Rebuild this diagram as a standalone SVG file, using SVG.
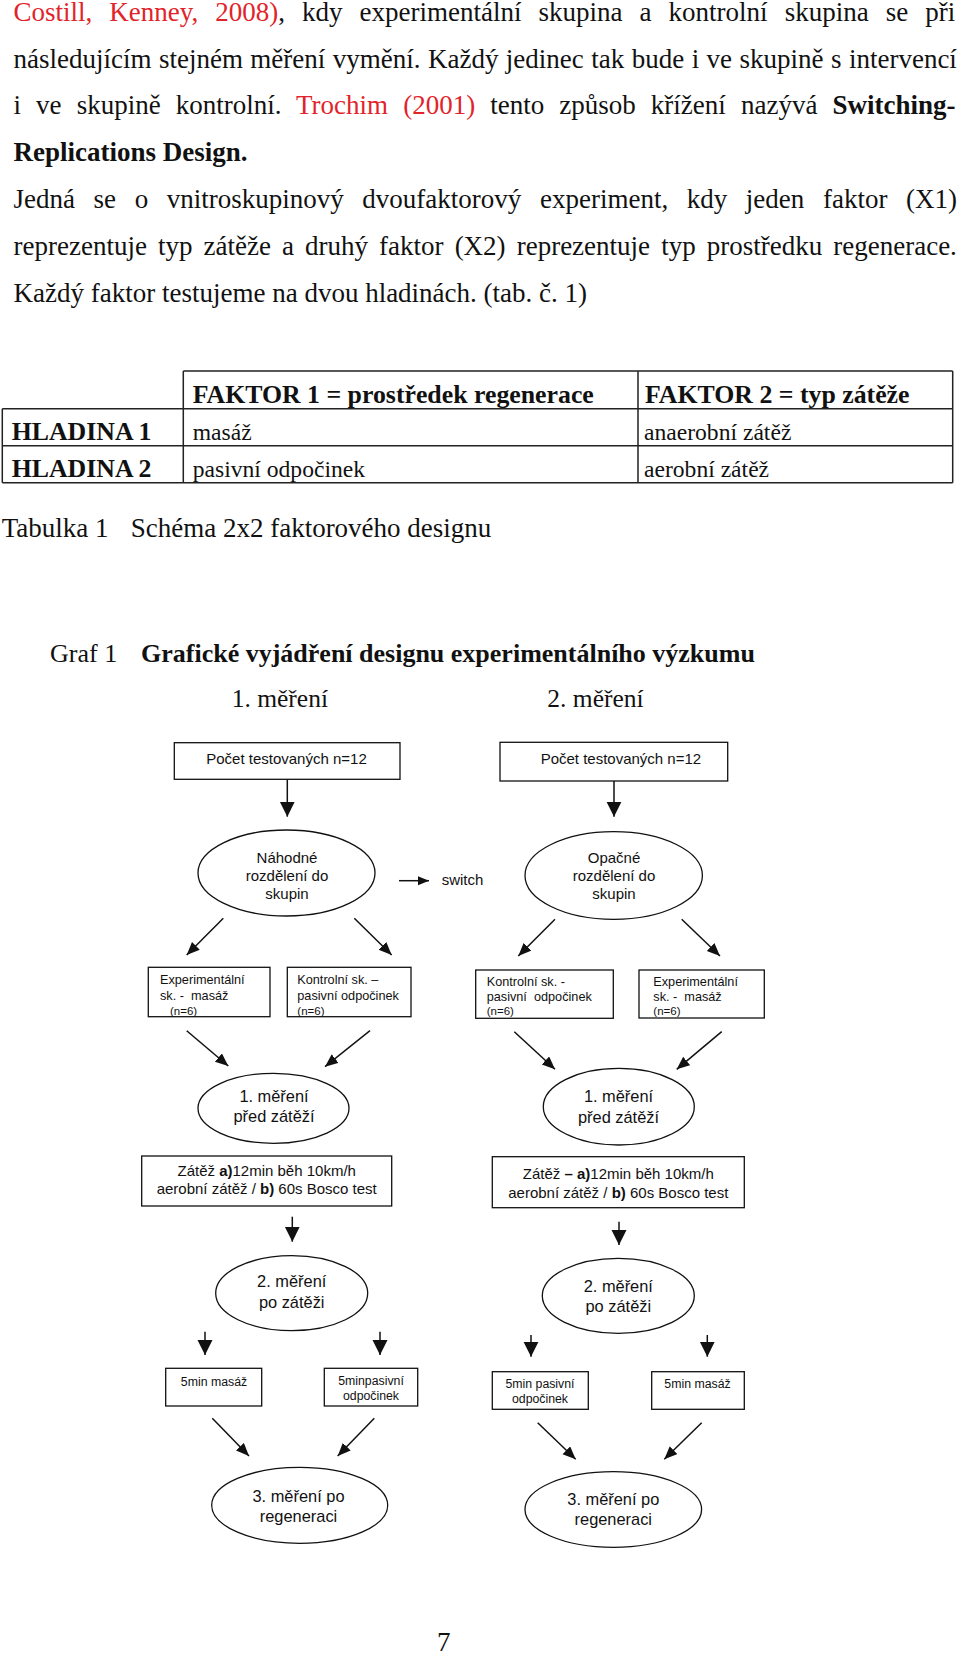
<svg xmlns="http://www.w3.org/2000/svg" width="960" height="1656" viewBox="0 0 960 1656">
<style>
.body{font-family:"Liberation Serif","Times New Roman",serif;font-size:27px;fill:#111}
.red{fill:#e2232a}
.b{font-weight:bold}
.tb{font-family:"Liberation Serif","Times New Roman",serif;font-size:25.8px;font-weight:bold;fill:#111}
.tr{font-family:"Liberation Serif","Times New Roman",serif;font-size:23.6px;fill:#111}
.tl{stroke:#222;stroke-width:1.5;fill:none}
.box{fill:#fff;stroke:#111;stroke-width:1.3}
.ell{fill:#fff;stroke:#111;stroke-width:1.3}
.s15{font-family:"Liberation Sans",Arial,sans-serif;font-size:15px;fill:#111}
.s13{font-family:"Liberation Sans",Arial,sans-serif;font-size:12.7px;fill:#111}
.s12{font-family:"Liberation Sans",Arial,sans-serif;font-size:12.3px;fill:#111}
.s11{font-family:"Liberation Sans",Arial,sans-serif;font-size:11.5px;fill:#111}
.s16{font-family:"Liberation Sans",Arial,sans-serif;font-size:16.4px;fill:#111}
.m{text-anchor:middle}
.ln{stroke:#111;stroke-width:1.5;fill:none}
</style>
<defs>
<marker id="big" markerUnits="userSpaceOnUse" markerWidth="16" markerHeight="16" refX="15" refY="7.5" orient="auto"><path d="M0,0 L15,7.5 L0,15 z" fill="#111"/></marker>
<marker id="sm" markerUnits="userSpaceOnUse" markerWidth="14" markerHeight="12" refX="13" refY="5.5" orient="auto"><path d="M0,0 L13,5.5 L0,11 z" fill="#111"/></marker>
<marker id="sw" markerUnits="userSpaceOnUse" markerWidth="12" markerHeight="10" refX="11" refY="4.5" orient="auto"><path d="M0,0 L11,4.5 L0,9 z" fill="#111"/></marker>
</defs>
<rect width="960" height="1656" fill="#fff"/>

<g id="paragraph">
<text class="body" x="13.5" y="20.7" word-spacing="10.28"><tspan class="red">Costill, Kenney, 2008)</tspan>, kdy experimentální skupina a kontrolní skupina se při</text>
<text class="body" x="13.5" y="67.5" word-spacing="0.7">následujícím stejném měření vymění. Každý jedinec tak bude i ve skupině s intervencí</text>
<text class="body" x="13.5" y="114.4" word-spacing="8.33">i ve skupině kontrolní. <tspan class="red">Trochim (2001)</tspan> tento způsob křížení nazývá <tspan class="b">Switching-</tspan></text>
<text class="body b" x="13.5" y="161.2">Replications Design.</text>
<text class="body" x="13.5" y="208" word-spacing="11.85">Jedná se o vnitroskupinový dvoufaktorový experiment, kdy jeden faktor (X1)</text>
<text class="body" x="13.5" y="254.9" word-spacing="4.31">reprezentuje typ zátěže a druhý faktor (X2) reprezentuje typ prostředku regenerace.</text>
<text class="body" x="13.5" y="301.7">Každý faktor testujeme na dvou hladinách. (tab. č. 1)</text>
</g>

<g id="table">
<path class="tl" d="M183.3,371 H952.7 M2.3,408.7 H952.7 M2.3,445.7 H952.7 M2.3,482.7 H952.7 M2.3,408.7 V482.7 M183.3,371 V482.7 M638,371 V482.7 M952.7,371 V482.7"/>
<text class="tb" x="192.7" y="402.7">FAKTOR 1 = prostředek regenerace</text>
<text class="tb" x="645" y="402.7">FAKTOR 2 = typ zátěže</text>
<text class="tb" x="11.7" y="440">HLADINA 1</text>
<text class="tb" x="11.7" y="476.7">HLADINA 2</text>
<text class="tr" x="192.7" y="440">masáž</text>
<text class="tr" x="192.7" y="476.7">pasivní odpočinek</text>
<text class="tr" x="644" y="440">anaerobní zátěž</text>
<text class="tr" x="644" y="476.7">aerobní zátěž</text>
</g>

<g id="captions">
<text class="body" x="1.7" y="536.7">Tabulka 1</text>
<text class="body" x="130.7" y="536.7">Schéma 2x2 faktorového designu</text>
<text class="body" x="50" y="662" style="font-size:26px">Graf  1</text>
<text class="body b" x="141" y="662" style="font-size:26px">Grafické vyjádření designu experimentálního výzkumu</text>
<text class="body" x="231.7" y="707" style="font-size:25.5px">1. měření</text>
<text class="body" x="547.3" y="707" style="font-size:25.5px">2. měření</text>
<text class="body" x="437" y="1651">7</text>
</g>

<g id="connectors">
<line class="ln" x1="287.3" y1="779.3" x2="287.3" y2="816.7" marker-end="url(#big)"/>
<line class="ln" x1="614" y1="781" x2="614" y2="816.7" marker-end="url(#big)"/>
<line class="ln" x1="399" y1="880.7" x2="429" y2="880.7" marker-end="url(#sw)"/>
<line class="ln" x1="223.3" y1="918.3" x2="186.7" y2="955" marker-end="url(#sm)"/>
<line class="ln" x1="354.3" y1="918.3" x2="391.7" y2="955" marker-end="url(#sm)"/>
<line class="ln" x1="555" y1="919.3" x2="518.3" y2="956" marker-end="url(#sm)"/>
<line class="ln" x1="681.7" y1="919.3" x2="720" y2="956" marker-end="url(#sm)"/>
<line class="ln" x1="186.7" y1="1030.7" x2="228.3" y2="1066" marker-end="url(#sm)"/>
<line class="ln" x1="370" y1="1030.7" x2="325" y2="1066.7" marker-end="url(#sm)"/>
<line class="ln" x1="514.3" y1="1031.7" x2="555" y2="1069.3" marker-end="url(#sm)"/>
<line class="ln" x1="721.7" y1="1031.7" x2="676.7" y2="1069.3" marker-end="url(#sm)"/>
<line class="ln" x1="292.3" y1="1216.7" x2="292.3" y2="1241.7" marker-end="url(#big)"/>
<line class="ln" x1="619" y1="1221.7" x2="619" y2="1245" marker-end="url(#big)"/>
<line class="ln" x1="205" y1="1331.7" x2="205" y2="1355" marker-end="url(#big)"/>
<line class="ln" x1="380" y1="1331.7" x2="380" y2="1355" marker-end="url(#big)"/>
<line class="ln" x1="531" y1="1335" x2="531" y2="1356.7" marker-end="url(#big)"/>
<line class="ln" x1="707.3" y1="1335" x2="707.3" y2="1356.7" marker-end="url(#big)"/>
<line class="ln" x1="212.3" y1="1418.3" x2="249" y2="1456" marker-end="url(#sm)"/>
<line class="ln" x1="374.3" y1="1418.3" x2="337.7" y2="1456" marker-end="url(#sm)"/>
<line class="ln" x1="537.7" y1="1422.7" x2="575.7" y2="1459.3" marker-end="url(#sm)"/>
<line class="ln" x1="701.7" y1="1422.7" x2="664.3" y2="1459.3" marker-end="url(#sm)"/>
<text class="s15" x="441.7" y="885">switch</text>
</g>

<g id="count1">
<rect class="box" x="174.3" y="742.7" width="225.7" height="36.6"/>
<text class="s15 m" x="286.5" y="764">Počet testovaných n=12</text>
</g>
<g id="count2">
<rect class="box" x="500" y="742.3" width="227.7" height="38.7"/>
<text class="s15 m" x="620.9" y="764">Počet testovaných n=12</text>
</g>

<g id="random1">
<ellipse class="ell" cx="286.5" cy="873" rx="88.5" ry="43"/>
<text class="s15 m" x="287" y="862.7">Náhodné</text>
<text class="s15 m" x="287" y="880.7">rozdělení do</text>
<text class="s15 m" x="287" y="899">skupin</text>
</g>
<g id="random2">
<ellipse class="ell" cx="613.7" cy="875.5" rx="88.7" ry="43.8"/>
<text class="s15 m" x="614" y="862.7">Opačné</text>
<text class="s15 m" x="614" y="880.7">rozdělení do</text>
<text class="s15 m" x="614" y="899">skupin</text>
</g>

<g id="groupA">
<rect class="box" x="148.3" y="967.3" width="121.7" height="49.4"/>
<text class="s13" x="160" y="984">Experimentální</text>
<text class="s13" x="160" y="1000" xml:space="preserve">sk. -  masáž</text>
<text class="s11" x="170" y="1015">(n=6)</text>
</g>
<g id="groupB">
<rect class="box" x="287.3" y="967.3" width="123.7" height="49.4"/>
<text class="s13" x="297.3" y="984">Kontrolní sk. –</text>
<text class="s13" x="297.3" y="1000">pasivní odpočinek</text>
<text class="s11" x="297.3" y="1015">(n=6)</text>
</g>
<g id="groupC">
<rect class="box" x="475.7" y="970" width="137.6" height="48.3"/>
<text class="s13" x="486.7" y="986">Kontrolní sk. -</text>
<text class="s13" x="486.7" y="1001" xml:space="preserve">pasivní  odpočinek</text>
<text class="s11" x="486.7" y="1015">(n=6)</text>
</g>
<g id="groupD">
<rect class="box" x="639" y="970" width="125.3" height="48"/>
<text class="s13" x="653.3" y="986">Experimentální</text>
<text class="s13" x="653.3" y="1001" xml:space="preserve">sk. -  masáž</text>
<text class="s11" x="653.3" y="1015">(n=6)</text>
</g>

<g id="pre1">
<ellipse class="ell" cx="273.5" cy="1108.3" rx="75.5" ry="35"/>
<text class="s16 m" x="274" y="1101.7">1. měření</text>
<text class="s16 m" x="274" y="1121.7">před zátěží</text>
</g>
<g id="pre2">
<ellipse class="ell" cx="618.8" cy="1106.7" rx="75.5" ry="38.3"/>
<text class="s16 m" x="618.5" y="1101.7">1. měření</text>
<text class="s16 m" x="618.5" y="1123.3">před zátěží</text>
</g>

<g id="load1">
<rect class="box" x="141.7" y="1156" width="250" height="50"/>
<text class="s15 m" x="266.7" y="1176">Zátěž <tspan class="b">a)</tspan>12min běh 10km/h</text>
<text class="s15 m" x="266.7" y="1194.3">aerobní zátěž / <tspan class="b">b)</tspan> 60s Bosco test</text>
</g>
<g id="load2">
<rect class="box" x="492.3" y="1156.7" width="252" height="51"/>
<text class="s15 m" x="618.3" y="1179.3">Zátěž <tspan class="b">– a)</tspan>12min běh 10km/h</text>
<text class="s15 m" x="618.3" y="1197.7">aerobní zátěž / <tspan class="b">b)</tspan> 60s Bosco test</text>
</g>

<g id="post1">
<ellipse class="ell" cx="291.7" cy="1293.2" rx="76" ry="37.5"/>
<text class="s16 m" x="291.7" y="1286.7">2. měření</text>
<text class="s16 m" x="291.7" y="1308.3">po zátěži</text>
</g>
<g id="post2">
<ellipse class="ell" cx="618.3" cy="1295.8" rx="76" ry="37.5"/>
<text class="s16 m" x="618.3" y="1291.7">2. měření</text>
<text class="s16 m" x="618.3" y="1311.7">po zátěži</text>
</g>

<g id="regen1a">
<rect class="box" x="165.7" y="1368.3" width="96" height="37.7"/>
<text class="s12 m" x="214" y="1386">5min masáž</text>
</g>
<g id="regen1b">
<rect class="box" x="324.3" y="1368.3" width="93.4" height="37.7"/>
<text class="s12 m" x="371" y="1385">5minpasivní</text>
<text class="s12 m" x="371" y="1400">odpočinek</text>
</g>
<g id="regen2a">
<rect class="box" x="492.3" y="1371.7" width="96" height="37.6"/>
<text class="s12 m" x="540" y="1388.3">5min pasivní</text>
<text class="s12 m" x="540" y="1403.3">odpočinek</text>
</g>
<g id="regen2b">
<rect class="box" x="651.7" y="1371.7" width="92.6" height="37.6"/>
<text class="s12 m" x="697.5" y="1388">5min masáž</text>
</g>

<g id="final1">
<ellipse class="ell" cx="299.7" cy="1505.3" rx="88" ry="38"/>
<text class="s16 m" x="298.5" y="1501.7">3. měření po</text>
<text class="s16 m" x="298.5" y="1521.7">regeneraci</text>
</g>
<g id="final2">
<ellipse class="ell" cx="613.3" cy="1509.5" rx="88.3" ry="37.8"/>
<text class="s16 m" x="613.3" y="1505">3. měření po</text>
<text class="s16 m" x="613.3" y="1525">regeneraci</text>
</g>
</svg>
